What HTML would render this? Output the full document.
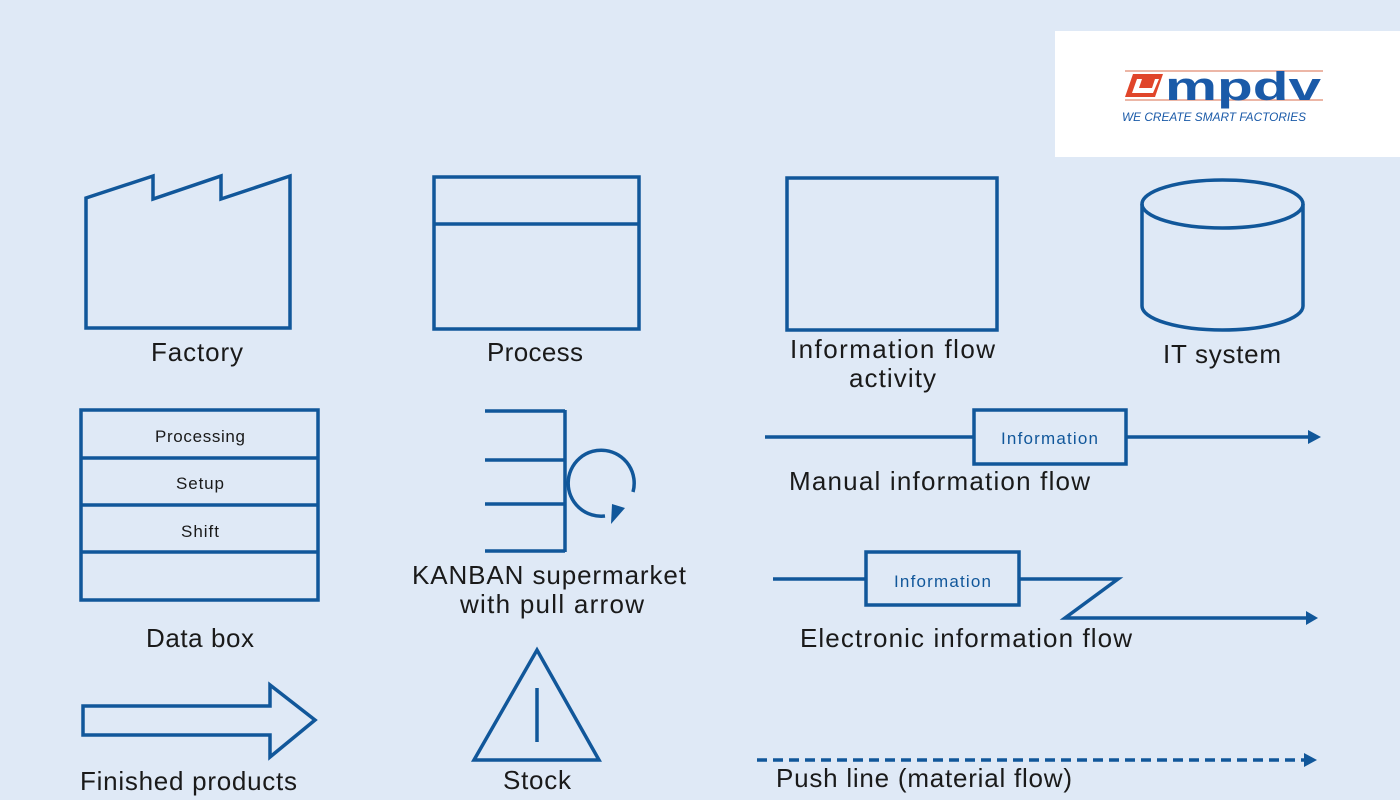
<!DOCTYPE html>
<html><head><meta charset="utf-8"><style>
html,body{margin:0;padding:0;background:#dfe9f6;}
svg{display:block}
text{font-family:"Liberation Sans",sans-serif;}
</style></head><body>
<svg width="1400" height="800" viewBox="0 0 1400 800" xmlns="http://www.w3.org/2000/svg">
<rect width="1400" height="800" fill="#dfe9f6"/>
<!-- logo -->
<rect x="1055" y="31" width="345" height="126" fill="#ffffff"/>
<line x1="1125" y1="71" x2="1323" y2="71" stroke="#e08a70" stroke-width="1.2"/>
<line x1="1125" y1="100" x2="1323" y2="100" stroke="#e08a70" stroke-width="1.2"/>
<polygon points="1133,74 1163,74 1155,97 1125,97" fill="#e0452a"/>
<polygon points="1137,79 1142,79 1139,88 1152,88 1155,79 1159,79 1153,93 1132,93" fill="#ffffff"/>
<text x="1165" y="100" font-size="40" font-weight="bold" fill="#1a5aa8" textLength="156" lengthAdjust="spacingAndGlyphs">mpdv</text>
<text x="1122" y="121" font-size="12" fill="#1a5aa8" font-style="italic" textLength="184" lengthAdjust="spacingAndGlyphs">WE CREATE SMART FACTORIES</text>

<g fill="none" stroke="#11579a" stroke-width="3.5">
<polygon points="86,328 86,198 153,176 153,199 221,176 221,199 290,176 290,328"/>
<rect x="434" y="177" width="205" height="152"/>
<line x1="434" y1="224" x2="639" y2="224"/>
<rect x="787" y="178" width="210" height="152"/>
<path d="M1142,204 L1142,306 A80.5,24 0 0 0 1303,306 L1303,204"/>
<ellipse cx="1222.5" cy="204" rx="80.5" ry="24"/>
<rect x="81" y="410" width="237" height="190"/>
<line x1="81" y1="458" x2="318" y2="458"/>
<line x1="81" y1="505" x2="318" y2="505"/>
<line x1="81" y1="552" x2="318" y2="552"/>
<line x1="565" y1="410" x2="565" y2="552"/>
<line x1="485" y1="411" x2="565" y2="411"/>
<line x1="485" y1="460" x2="565" y2="460"/>
<line x1="485" y1="504" x2="565" y2="504"/>
<line x1="485" y1="551" x2="565" y2="551"/>
<path d="M633,492 A33,33 0 1 0 605,516"/>
<line x1="765" y1="437" x2="974" y2="437"/>
<rect x="974" y="410" width="152" height="54"/>
<line x1="1126" y1="437" x2="1310" y2="437"/>
<line x1="773" y1="579" x2="866" y2="579"/>
<rect x="866" y="552" width="153" height="53"/>
<polyline points="1019,579 1118,579 1065,618 1308,618"/>
<polygon points="83,706 270,706 270,685 315,720 270,757 270,735 83,735"/>
<polygon points="474,760 537,650 599,760"/>
<line x1="537" y1="688" x2="537" y2="742"/>
<line x1="757" y1="760" x2="1306" y2="760" stroke-dasharray="10,6"/>
</g>
<g fill="#11579a">
<polygon points="612,504 625,508 611,524"/>
<polygon points="1308,430 1321,437 1308,444"/>
<polygon points="1306,611 1318,618 1306,625"/>
<polygon points="1304,753 1317,760 1304,767"/>
</g>

<g font-size="26" fill="#1a1a1a" lengthAdjust="spacingAndGlyphs">
<text x="151" y="361" textLength="92">Factory</text>
<text x="487" y="361" textLength="96">Process</text>
<text x="790" y="358" textLength="205">Information flow</text>
<text x="849" y="387" textLength="87">activity</text>
<text x="1163" y="363" textLength="118">IT system</text>
<text x="146" y="647" textLength="108">Data box</text>
<text x="412" y="584" textLength="274">KANBAN supermarket</text>
<text x="460" y="613" textLength="184">with pull arrow</text>
<text x="789" y="490" textLength="301">Manual information flow</text>
<text x="800" y="647" textLength="332">Electronic information flow</text>
<text x="80" y="790" textLength="217">Finished products</text>
<text x="503" y="789" textLength="68">Stock</text>
<text x="776" y="787" textLength="296">Push line (material flow)</text>
</g>
<g font-size="17" fill="#1a1a1a" lengthAdjust="spacingAndGlyphs">
<text x="155" y="442" textLength="90">Processing</text>
<text x="176" y="489" textLength="48">Setup</text>
<text x="181" y="537" textLength="38">Shift</text>
</g>
<g font-size="17" fill="#11579a" lengthAdjust="spacingAndGlyphs">
<text x="1001" y="444" textLength="97">Information</text>
<text x="894" y="587" textLength="97">Information</text>
</g>
</svg>
</body></html>
